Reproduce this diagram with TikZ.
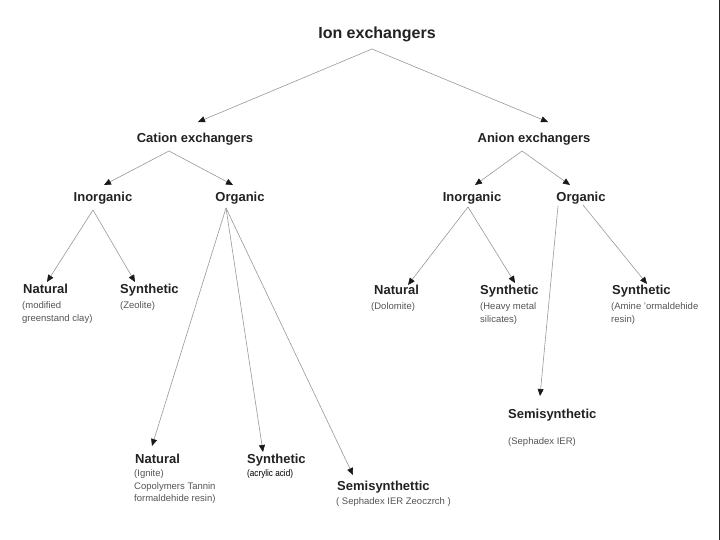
\documentclass[tikz,border=0pt]{standalone}
\usepackage{fontspec}
\usepackage{graphicx}
\setmainfont{Liberation Sans}
\usetikzlibrary{arrows.meta}
\definecolor{headc}{HTML}{222222}
\definecolor{descc}{HTML}{555555}
\definecolor{linec}{HTML}{999999}
\tikzset{
  title/.style={font=\fontsize{16}{19}\selectfont\bfseries, text=headc, inner sep=0pt, anchor=base},
  mid/.style={font=\fontsize{13}{15}\selectfont\bfseries, text=headc, inner sep=0pt, anchor=base},
  leaf/.style={font=\fontsize{13}{15}\selectfont\bfseries, text=headc, inner sep=0pt, anchor=base west},
  desc/.style={font=\fontsize{9.5}{11}\selectfont, text=descc, inner sep=0pt, anchor=base west},
  arr/.style={draw=linec, line width=0.6pt, -{Triangle[length=7pt,width=6pt,color=black!90]}}
}
\begin{document}
\begin{tikzpicture}[x=1pt,y=-1pt]
\useasboundingbox (0,0) rectangle (720,540);
\fill[white] (0,0) rectangle (720,540);
\draw[line width=1.5pt, black!85] (719.25,0) -- (719.25,540);

% upper levels
\node[title] (ion) at (377,39) {Ion exchangers};
\node[mid] (cat) at (195,143) {Cation exchangers};
\node[mid] (ani) at (534,143) {Anion exchangers};
\node[mid] (cinorg) at (103,202) {Inorganic};
\node[mid] (corg) at (240,202) {Organic};
\node[mid] (ainorg) at (472,202) {Inorganic};
\node[mid] (aorg) at (581,202) {Organic};

% leaves
\node[leaf] (cnat) at (23,293) {Natural};
\node[desc] (cnatd1) at (22,308) {(modified};
\node[desc] (cnatd2) at (22,321) {greenstand clay)};
\node[leaf] (csyn) at (120,293) {Synthetic};
\node[desc] (csynd) at (120,308) {(Zeolite)};

\node[leaf] (onat) at (135,463) {Natural};
\node[desc] (onatd1) at (134,476) {(Ignite)};
\node[desc] (onatd2) at (134,489) {Copolymers Tannin};
\node[desc] (onatd3) at (134,501) {formaldehide resin)};
\node[leaf] (osyn) at (247,463) {Synthetic};
\node[desc, text=black] (osynd) at (247,476) {\scalebox{0.86}[1]{(acrylic acid)}};
\node[leaf] (osemi) at (337,490) {Semisynthettic};
\node[desc] (osemid) at (336,504) {( Sephadex IER Zeoczrch )};

\node[leaf] (anat) at (374,294) {Natural};
\node[desc] (anatd) at (371,309) {(Dolomite)};
\node[leaf] (asyn) at (480,294) {Synthetic};
\node[desc] (asynd1) at (480,309) {(Heavy metal};
\node[desc] (asynd2) at (480,322) {silicates)};
\node[leaf] (asyn2) at (612,294) {Synthetic};
\node[desc] (asyn2d1) at (611,309) {(Amine 'ormaldehide};
\node[desc] (asyn2d2) at (611,322) {resin)};
\node[leaf] (asemi) at (508,418) {Semisynthetic};
\node[desc] (asemid) at (508,444) {(Sephadex IER)};

% connectors
\draw[arr] ([shift={(-5,10)}]ion.base) -- ([shift={(3,-21)}]cat.base);
\draw[arr] ([shift={(-5,10)}]ion.base) -- ([shift={(14,-21)}]ani.base);

\draw[arr] ([shift={(-26,8)}]cat.base) -- ([shift={(1,-17)}]cinorg.base);
\draw[arr] ([shift={(-26,8)}]cat.base) -- ([shift={(-7,-17)}]corg.base);
\draw[arr] ([shift={(-12,8)}]ani.base) -- ([shift={(3,-17)}]ainorg.base);
\draw[arr] ([shift={(-12,8)}]ani.base) -- ([shift={(-11,-17)}]aorg.base);

\draw[arr] ([shift={(-10,8)}]cinorg.base) -- ([shift={(24,-11)}]cnat.base west);
\draw[arr] ([shift={(-10,8)}]cinorg.base) -- ([shift={(15,-11)}]csyn.base west);

\draw[arr] ([shift={(-14,6)}]corg.base) -- ([shift={(17,-17)}]onat.base west);
\draw[arr] ([shift={(-14,6)}]corg.base) -- ([shift={(16,-11)}]osyn.base west);
\draw[arr] ([shift={(-14,6)}]corg.base) -- ([shift={(16,-15)}]osemi.base west);

\draw[arr] ([shift={(-4,5)}]ainorg.base) -- ([shift={(34,-9)}]anat.base west);
\draw[arr] ([shift={(-4,5)}]ainorg.base) -- ([shift={(35,-11)}]asyn.base west);

\draw[arr] ([shift={(-23,4)}]aorg.base) -- ([shift={(32,-22)}]asemi.base west);
\draw[arr] ([shift={(2,3)}]aorg.base) -- ([shift={(35,-10)}]asyn2.base west);
\end{tikzpicture}
\end{document}
